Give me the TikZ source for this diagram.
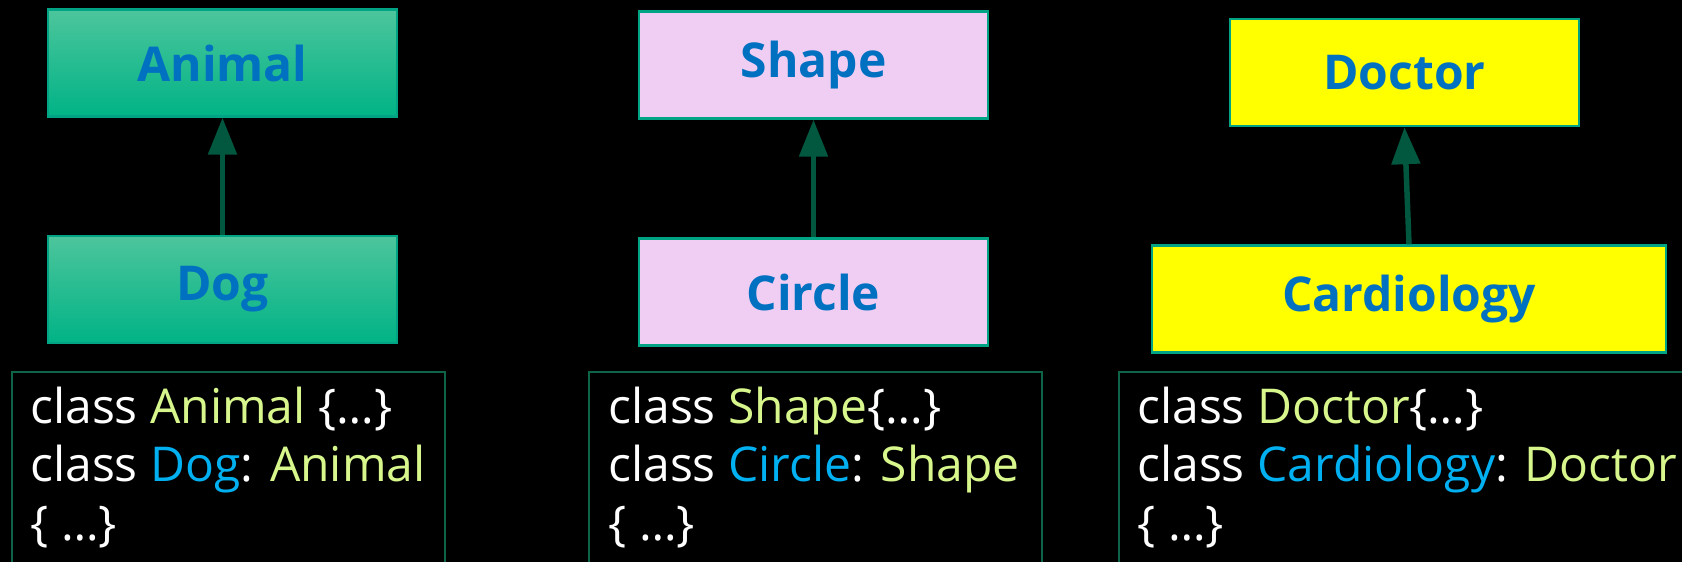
\documentclass[tikz,border=0pt]{standalone}
\usepackage{fontspec}
\setmainfont{Open Sans}
\usetikzlibrary{arrows.meta}

\definecolor{titleblue}{HTML}{0070C0}
\definecolor{basegreen}{HTML}{D7F68C}
\definecolor{derivedblue}{HTML}{00B0F0}
\definecolor{edgeteal}{HTML}{00A383}
\definecolor{arrowgreen}{HTML}{02573F}
\definecolor{codeedge}{HTML}{0E6449}
\definecolor{greentop}{HTML}{4DC59C}
\definecolor{greenfill}{HTML}{00B386}
\definecolor{pinkfill}{HTML}{F0CDF3}
\definecolor{yellowfill}{HTML}{FFFF00}

\begin{document}
\begin{tikzpicture}[
    x=0.5pt,
    y=-0.5pt,
    >={Triangle[width=14pt,length=18.5pt]},
    box/.style={
        draw=edgeteal,
        line width=1.2pt,
        minimum height=53.5pt,
        text=titleblue,
        font=\fontsize{24}{28}\selectfont\bfseries
    },
    codebox/.style={
        draw=codeedge,
        line width=1pt,
        anchor=north west,
        minimum height=125pt
    },
    codetext/.style={
        anchor=base west,
        align=left,
        inner sep=0pt,
        text=white,
        font=\fontsize{24}{29.25}\selectfont
    },
    arr/.style={
        ->,
        line width=2.75pt,
        draw=arrowgreen
    }
]

    \fill[black] (0,0) rectangle (1682,562);
    \useasboundingbox (0,0) rectangle (1682,562);
    \clip (0,0) rectangle (1682,562);

    % Animal / Dog
    \node[
        box,
        minimum width=174.5pt,
        top color=greentop,
        middle color=greenfill,
        bottom color=greenfill
    ] (animal) at (222.5,63) {Animal};

    \node[
        box,
        minimum width=174.5pt,
        top color=greentop,
        middle color=greenfill,
        bottom color=greenfill
    ] (dog) at (222.5,289.5) {Dog};

    \draw[arr] (dog.north) -- (animal.south);

    \node[
        codebox,
        minimum width=216.5pt
    ] (animalcode) at (11,371) {};

    % base of the text = baseline of its last line
    \node[codetext] (animaltext) at (30,540)
        {class \textcolor{basegreen}{Animal} \{…\}\\
         class \textcolor{derivedblue}{Dog}: \textcolor{basegreen}{Animal}\\
         \{ …\}};

    % Shape / Circle
    \node[
        box,
        minimum width=174.5pt,
        fill=pinkfill
    ] (shape) at (813.5,65) {Shape};

    \node[
        box,
        minimum width=174.5pt,
        fill=pinkfill
    ] (circle) at (813.5,292) {Circle};

    \draw[arr] (circle.north) -- (shape.south);

    \node[
        codebox,
        minimum width=226.5pt
    ] (shapecode) at (588,371) {};

    \node[codetext] (shapetext) at (608,540)
        {class \textcolor{basegreen}{Shape}\{…\}\\
         class \textcolor{derivedblue}{Circle}: \textcolor{basegreen}{Shape}\\
         \{ …\}};

    % Doctor / Cardiology
    \node[
        box,
        minimum width=174.5pt,
        fill=yellowfill
    ] (doctor) at (1404.5,72.5) {Doctor};

    \node[
        box,
        minimum width=257pt,
        fill=yellowfill
    ] (cardiology) at (1409,299) {Cardiology};

    \draw[arr] (cardiology.north) -- (doctor.south);

    \node[
        codebox,
        minimum width=300pt
    ] (doctorcode) at (1118,371) {};

    \node[codetext] (doctortext) at (1137,540)
        {class \textcolor{basegreen}{Doctor}\{…\}\\
         class \textcolor{derivedblue}{Cardiology}: \textcolor{basegreen}{Doctor}\\
         \{ …\}};

\end{tikzpicture}
\end{document}
